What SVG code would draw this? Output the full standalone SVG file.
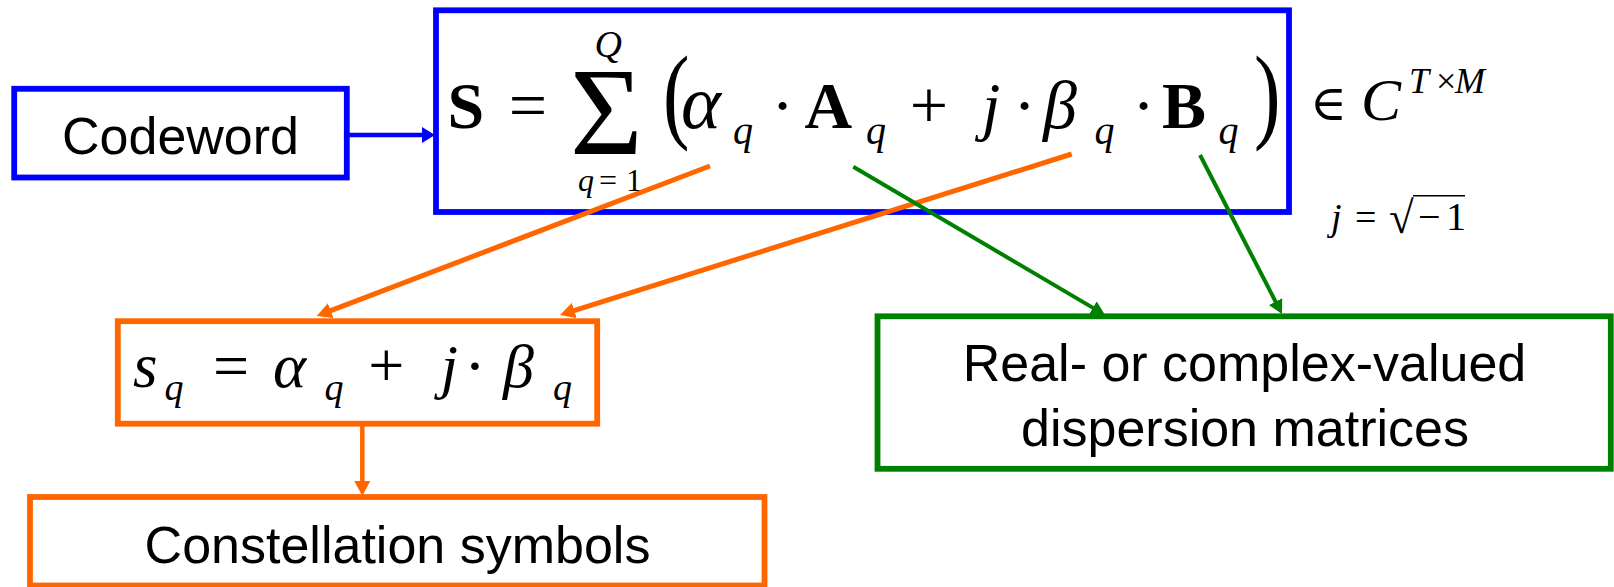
<svg xmlns="http://www.w3.org/2000/svg" width="1614" height="587" viewBox="0 0 1614 587">
<style>
.box{fill:#fff;stroke-width:5.8}
.blue{stroke:#0000ff}
.orange{stroke:#ff6600}
.green{stroke:#008000}
.lbl{font-family:"Liberation Sans",Arial,sans-serif;font-size:52px;fill:#000;text-anchor:middle}
.m{font-family:"Liberation Serif","Times New Roman","DejaVu Serif",serif;fill:#000}
.i{font-style:italic}
.b{font-weight:bold}
.c{text-anchor:middle}
.ln{fill:none}
</style>
<defs>
<marker id="hb" markerUnits="userSpaceOnUse" markerWidth="14" markerHeight="16" refX="5" refY="8" orient="auto"><path d="M0,0 L13,8 L0,16 z" fill="#0000ff"/></marker>
<marker id="ho" markerUnits="userSpaceOnUse" markerWidth="16" markerHeight="16" refX="7" refY="8" orient="auto"><path d="M0,0 L15,8 L0,16 z" fill="#ff6600"/></marker>
<marker id="hg" markerUnits="userSpaceOnUse" markerWidth="16" markerHeight="16" refX="6" refY="7.5" orient="auto"><path d="M0,0 L14,7.5 L0,15 z" fill="#008000"/></marker>
</defs>

<g id="node-codeword">
<rect class="box blue" x="14.2" y="88.8" width="332.6" height="88.7"/>
<text class="lbl" x="180.5" y="154">Codeword</text>
</g>

<g id="node-main">
<rect class="box blue" x="436" y="10.3" width="853" height="201.7"/>
<text class="m b" x="447.5" y="128" font-size="66">S</text>
<text class="m c" x="528" y="128" font-size="68">=</text>
<text class="m" x="570" y="154" font-size="125">Σ</text>
<text class="m i" x="594.5" y="57" font-size="38">Q</text>
<text class="m" y="190.7" font-size="32"><tspan class="i" x="578">q</tspan><tspan x="599">=</tspan><tspan x="626">1</tspan></text>
<text class="m" transform="translate(663,128.6) scale(0.75,1)" font-size="106">(</text>
<text class="m i" x="681" y="128" font-size="76">α</text>
<text class="m i" x="733" y="143.5" font-size="40">q</text>
<text class="m c" x="782.5" y="128" font-size="68">·</text>
<text class="m b" x="804.5" y="128" font-size="66">A</text>
<text class="m i" x="866" y="143.5" font-size="40">q</text>
<text class="m c" x="929" y="128" font-size="68">+</text>
<text class="m i" x="982" y="128" font-size="66">j</text>
<text class="m c" x="1024.5" y="128" font-size="68">·</text>
<text class="m i" x="1043" y="128" font-size="68">β</text>
<text class="m i" x="1094.5" y="143.5" font-size="40">q</text>
<text class="m c" x="1143.7" y="128" font-size="68">·</text>
<text class="m b" x="1162" y="128" font-size="66">B</text>
<text class="m i" x="1218.5" y="143.5" font-size="40">q</text>
<text class="m" transform="translate(1254,128.6) scale(0.75,1)" font-size="106">)</text>
<text class="m c" x="1328.3" y="120" font-size="50">∈</text>
<text class="m i" x="1361" y="120" font-size="60">C</text>
<text class="m" y="93" font-size="36"><tspan class="i" x="1409">T</tspan><tspan x="1436">×</tspan><tspan class="i" x="1455">M</tspan></text>
<text class="m" y="230" font-size="38"><tspan class="i" x="1331">j</tspan><tspan x="1355">=</tspan></text>
<text class="m" x="1389" y="233" font-size="45">√</text>
<line x1="1413" y1="195.8" x2="1465" y2="195.8" stroke="#000" stroke-width="1.6"/>
<text class="m" y="230" font-size="40"><tspan x="1418">−</tspan><tspan x="1446">1</tspan></text>
</g>

<g id="node-sq">
<rect class="box orange" x="117.8" y="321.2" width="479.4" height="102.5"/>
<text class="m i" x="133" y="387" font-size="63">s</text>
<text class="m i" x="164.5" y="400" font-size="38">q</text>
<text class="m c" x="231" y="387" font-size="64">=</text>
<text class="m i" x="273" y="387" font-size="63">α</text>
<text class="m i" x="324.5" y="400" font-size="38">q</text>
<text class="m c" x="386.4" y="387" font-size="64">+</text>
<text class="m i" x="440.7" y="387" font-size="62">j</text>
<text class="m c" x="475" y="387" font-size="64">·</text>
<text class="m i" x="503" y="387" font-size="62">β</text>
<text class="m i" x="553" y="400" font-size="38">q</text>
</g>

<g id="node-constellation">
<rect class="box orange" x="30" y="497" width="734.5" height="88.5"/>
<text class="lbl" x="397.5" y="563">Constellation symbols</text>
</g>

<g id="node-dispersion">
<rect class="box green" x="877.5" y="316.3" width="733.3" height="152.5"/>
<text class="lbl" x="1244.5" y="380.5">Real- or complex-valued</text>
<text class="lbl" x="1245" y="446">dispersion matrices</text>
</g>

<g id="connectors">
<line class="ln blue" stroke-width="4.5" x1="349" y1="135" x2="427" y2="135" marker-end="url(#hb)"/>
<line class="ln orange" stroke-width="5" x1="710" y1="166" x2="324.2" y2="313.1" marker-end="url(#ho)"/>
<line class="ln orange" stroke-width="5" x1="1071.7" y1="154" x2="567.6" y2="312.6" marker-end="url(#ho)"/>
<line class="ln orange" stroke-width="4.5" x1="362.3" y1="424" x2="362.3" y2="488" marker-end="url(#ho)"/>
<line class="ln green" stroke-width="4" x1="853.3" y1="166.7" x2="1098.1" y2="310.9" marker-end="url(#hg)"/>
<line class="ln green" stroke-width="4" x1="1200" y1="155" x2="1278.3" y2="306.9" marker-end="url(#hg)"/>
</g>
</svg>
